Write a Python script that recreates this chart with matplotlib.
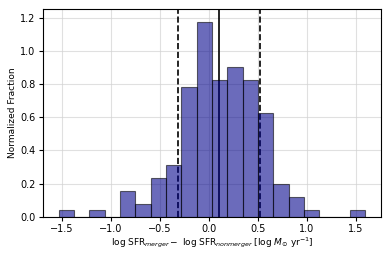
import numpy as np
import matplotlib.pyplot as plt

# histogram of SFR differences (counts per bin)
bin_lo = -1.531
bin_hi = 1.599
counts = [1, 0, 1, 0, 4, 2, 6, 8, 20, 30, 21, 23, 21, 16, 5, 3, 1, 0, 0, 1]
p16, p50, p84 = -0.316, 0.106, 0.52

edges = np.linspace(bin_lo, bin_hi, len(counts) + 1)
width = np.diff(edges)
counts = np.array(counts)
frac = counts / (counts.sum() * width)

fig = plt.figure(figsize=(3.9, 2.6), dpi=100)
ax = fig.add_axes([0.111, 0.1665, 0.865, 0.7975])

ax.grid(True, color='lightgray', alpha=0.7, linewidth=0.8, zorder=0)
ax.axvline(p50, color='black', linestyle='-', linewidth=1.2, zorder=1)
ax.axvline(p16, color='black', linestyle='--', linewidth=1.2, zorder=1)
ax.axvline(p84, color='black', linestyle='--', linewidth=1.2, zorder=1)
ax.bar(edges[:-1], frac, width=width, align='edge', color='darkblue',
       edgecolor='black', alpha=0.58, linewidth=0.8, zorder=2)

ax.set_xlim(-1.687, 1.755)
ax.set_ylim(0, 1.25)
ax.set_xticks([-1.5, -1.0, -0.5, 0.0, 0.5, 1.0, 1.5])
ax.set_yticks([0.0, 0.2, 0.4, 0.6, 0.8, 1.0, 1.2])
ax.tick_params(labelsize=7, length=3, pad=2.5)
ax.set_ylabel('Normalized Fraction', fontsize=6.5, labelpad=2)
ax.set_xlabel(r'log SFR$_{merger}-$ log SFR$_{nonmerger}$ [log $M_{\odot}$ yr$^{-1}$]',
              fontsize=6.5, labelpad=0.5)
ax.set_axisbelow(True)

fig.savefig('out.png', dpi=100)
